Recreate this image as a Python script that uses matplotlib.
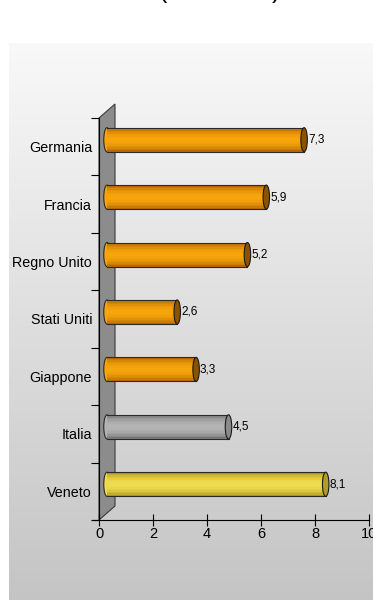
import numpy as np
import matplotlib.pyplot as plt
from matplotlib.patches import Ellipse, Polygon
from matplotlib.transforms import ScaledTranslation

plt.rcParams['font.family'] = ['Liberation Sans', 'DejaVu Sans']

categories = ["Veneto", "Italia", "Giappone", "Stati Uniti", "Regno Unito", "Francia", "Germania"]
values = [8.1, 4.5, 3.3, 2.6, 5.2, 5.9, 7.3]
value_labels = ["8,1", "4,5", "3,3", "2,6", "5,2", "5,9", "7,3"]
# (edge, centre, cap) colours for each bar
bar_colors = [("#a08a10", "#f0dc50", "#b49c22"),
              ("#6a6a6a", "#b4b4b4", "#8a8a8a"),
              ("#a85c00", "#f7a50c", "#8c5200"),
              ("#a85c00", "#f7a50c", "#8c5200"),
              ("#a85c00", "#f7a50c", "#8c5200"),
              ("#a85c00", "#f7a50c", "#8c5200"),
              ("#a85c00", "#f7a50c", "#8c5200")]
x_ticks = [0, 2, 4, 6, 8, 10]

W, H = 373, 600
fig = plt.figure(figsize=(W / 100, H / 100), dpi=100)
fig.patch.set_facecolor("white")

# grey gradient panel behind the plot
bg = fig.add_axes([9 / W, 0, 1 - 9 / W, (H - 43) / H], zorder=-5)
grad = np.linspace(0.77, 0.975, 256)[:, None]
bg.imshow(np.dstack([grad, grad, grad]), aspect="auto", origin="lower", extent=[0, 1, 0, 1])
bg.set_axis_off()

# truncated title
fig.text(163 / W, 1 + 2 / H, "(", fontsize=18, ha="center", va="baseline")
fig.text(276 / W, 1 + 2 / H, ")", fontsize=18, ha="center", va="baseline")

ax = fig.add_axes([99 / W, (H - 520) / H, 270 / W, 402 / H])
ax.patch.set_alpha(0)
ax.set_xlim(0, 10)
ax.set_ylim(-0.5, len(categories) - 0.5)

# 3D wall behind the bars
dx, dy = 16 / 27.0, 14 / (402 / 7)
n = len(categories)
wall = Polygon([(0, -0.5), (dx, -0.5 + dy), (dx, n - 0.5 + dy), (0, n - 0.5)],
               closed=True, facecolor="#8c8c8c", edgecolor="#3a3a3a", lw=0.8,
               clip_on=False, zorder=1)
ax.add_patch(wall)

tr = ax.transData + ScaledTranslation(8 / 100, 7 / 100, fig.dpi_scale_trans)
h = 0.42
nstrip = 16
cap_w = 0.24

def mix(c1, c2, t):
    a = np.array(plt.matplotlib.colors.to_rgb(c1))
    b = np.array(plt.matplotlib.colors.to_rgb(c2))
    return tuple(a + (b - a) * t)

for i, (v, lab, (edge, mid, cap)) in enumerate(zip(values, value_labels, bar_colors)):
    # left rounded end
    ax.add_patch(Ellipse((0, i), cap_w, h, facecolor=mid, edgecolor="#2a2a2a",
                         lw=0.8, transform=tr, zorder=2))
    # cylinder body as shaded strips
    for k in range(nstrip):
        t = (k + 0.5) / nstrip
        s = np.sin(np.pi * t) ** 0.7
        col = mix(edge, mid, s)
        ax.barh(i - h / 2 + k * h / nstrip, v, height=h / nstrip, align="edge",
                color=col, lw=0, transform=tr, zorder=3)
    ax.plot([0, v], [i - h / 2, i - h / 2], color="#2a2a2a", lw=0.8, transform=tr, zorder=4)
    ax.plot([0, v], [i + h / 2, i + h / 2], color="#2a2a2a", lw=0.8, transform=tr, zorder=4)
    # right end cap
    ax.add_patch(Ellipse((v, i), cap_w, h, facecolor=cap, edgecolor="#1a1a1a",
                         lw=0.8, transform=tr, zorder=5))
    ax.text(v + cap_w / 2 + 0.02, i, lab, fontsize=8.5, ha="left", va="center",
            transform=tr, zorder=6)

for side in ("top", "right"):
    ax.spines[side].set_visible(False)
ax.spines["left"].set_linewidth(0.8)
ax.spines["bottom"].set_linewidth(0.8)
ax.spines["bottom"].set_bounds(-0.25, 10)

ax.set_xticks(x_ticks)
ax.set_xticklabels([str(t) for t in x_ticks], fontsize=10.5)
ax.tick_params(axis="x", direction="inout", length=8, width=0.8, pad=1)

ax.set_yticks(np.arange(-0.5, n, 1.0))
ax.set_yticklabels([])
ax.tick_params(axis="y", direction="out", length=6, width=0.8)
ax.set_yticks(np.arange(n), minor=True)
ax.set_yticklabels(categories, minor=True, fontsize=10.3)
ax.tick_params(axis="y", which="minor", length=0, pad=5)

fig.savefig("out.png", dpi=100)
